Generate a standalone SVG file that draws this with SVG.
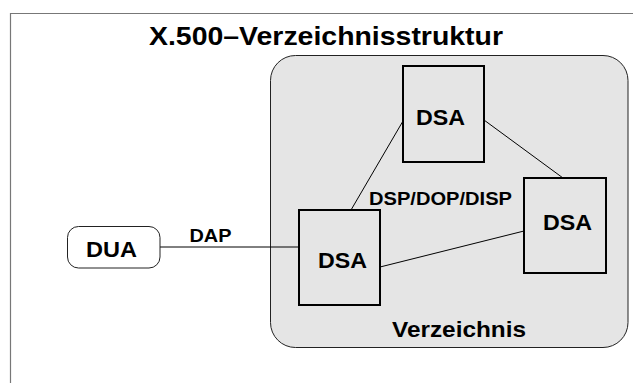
<svg xmlns="http://www.w3.org/2000/svg" width="633" height="383" viewBox="0 0 633 383">
<style>
text{font-family:"Liberation Sans",Arial,Helvetica,sans-serif;font-weight:bold;fill:#000;text-anchor:middle}
.dsa{fill:none;stroke:#000;stroke-width:2}
.con{stroke:#000;stroke-width:1;fill:none}
</style>
<rect width="633" height="383" fill="#fff"/>
<path d="M10.5,383 V13.5 H633" fill="none" stroke="#777" stroke-width="1.2"/>
<text x="326" y="45" font-size="26" textLength="354" lengthAdjust="spacingAndGlyphs">X.500–Verzeichnisstruktur</text>
<g id="verzeichnis">
<rect x="270.5" y="55.5" width="357.5" height="292" rx="25" fill="#e5e5e5" stroke="#222" stroke-width="1"/>
<text x="459" y="337" font-size="21.5" textLength="134" lengthAdjust="spacingAndGlyphs">Verzeichnis</text>
</g>
<g id="connectors">
<line class="con" x1="160" y1="247" x2="299" y2="247" stroke="#444" stroke-width="1.3"/>
<line class="con" x1="403" y1="121" x2="351" y2="210"/>
<line class="con" x1="484" y1="120" x2="563" y2="178"/>
<line class="con" x1="380" y1="267" x2="524" y2="231"/>
<text x="210.5" y="242" font-size="18" textLength="42" lengthAdjust="spacingAndGlyphs">DAP</text>
<text x="440.5" y="205" font-size="18.5" textLength="143" lengthAdjust="spacingAndGlyphs">DSP/DOP/DISP</text>
</g>
<g id="dsa-top">
<rect class="dsa" x="403" y="66" width="81" height="96"/>
<text x="440.5" y="125" font-size="22" textLength="49" lengthAdjust="spacingAndGlyphs">DSA</text>
</g>
<g id="dsa-right">
<rect class="dsa" x="524" y="178" width="82" height="95"/>
<text x="567.5" y="230" font-size="22" textLength="49" lengthAdjust="spacingAndGlyphs">DSA</text>
</g>
<g id="dsa-left">
<rect class="dsa" x="299" y="210" width="81" height="95"/>
<text x="342.5" y="268" font-size="22" textLength="49" lengthAdjust="spacingAndGlyphs">DSA</text>
</g>
<g id="dua">
<rect x="67.5" y="226.5" width="92.5" height="41.5" rx="11" fill="#fff" stroke="#222" stroke-width="1"/>
<text x="111.5" y="257" font-size="22" textLength="51" lengthAdjust="spacingAndGlyphs">DUA</text>
</g>
</svg>
